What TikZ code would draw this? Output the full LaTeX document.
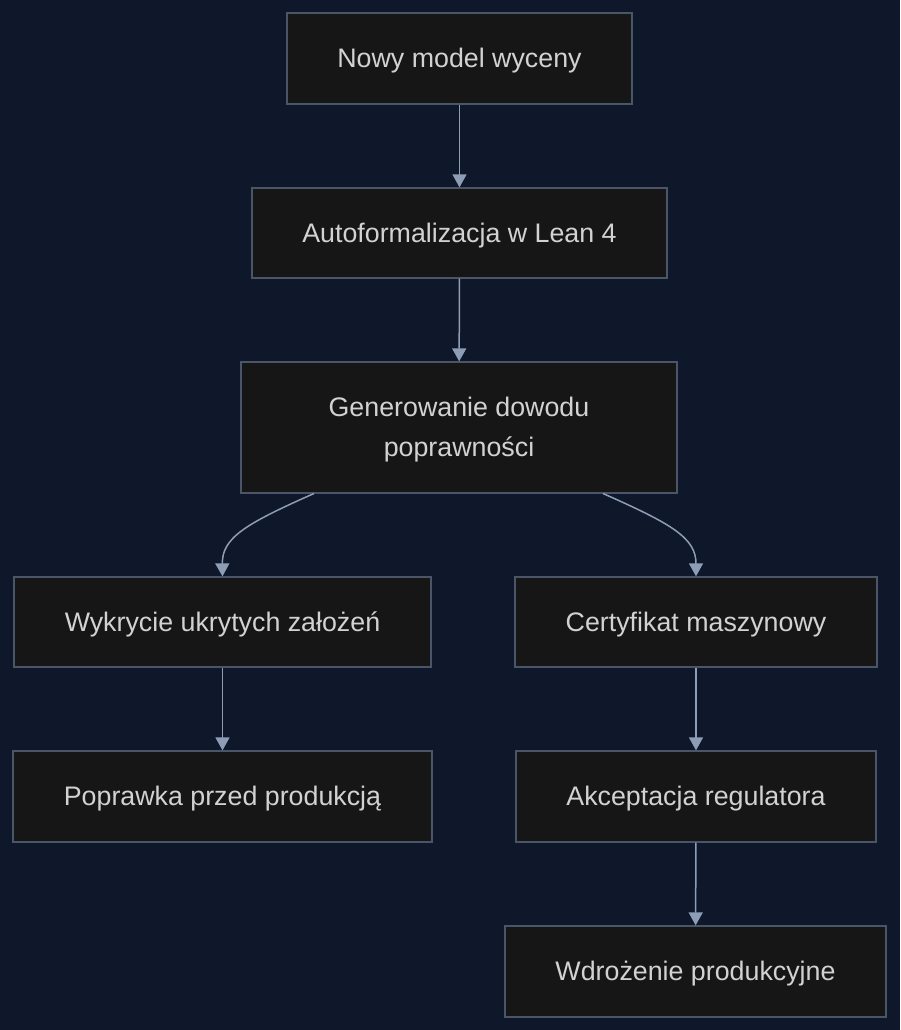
\documentclass[tikz,border=0pt]{standalone}
\usepackage{fontspec}
\setmainfont{Liberation Sans}
\usetikzlibrary{arrows.meta}
\definecolor{bgc}{HTML}{0F172A}
\definecolor{boxfill}{HTML}{161616}
\definecolor{boxline}{HTML}{4A5568}
\definecolor{edgec}{HTML}{8E9DB6}
\definecolor{txt}{HTML}{D2D2D2}
\begin{document}
\begin{tikzpicture}[x=1pt,y=-1pt,
  flowbox/.style={draw=boxline, line width=1.3pt, fill=boxfill, text=txt,
    inner sep=0pt, align=center, text height=24pt, text depth=6pt,
    font=\fontsize{26.8}{40}\selectfont},
  flowedge/.style={draw=edgec, line width=1.5pt,
    -{Triangle[width=14pt,length=13pt]}}]
\fill[bgc] (0,0) rectangle (900,1030);
\useasboundingbox (0,0) rectangle (900,1030);
\node[flowbox, minimum width=345pt, minimum height=91pt] (nowy) at (459.5,58.5) {Nowy model wyceny};
\node[flowbox, minimum width=415pt, minimum height=90pt] (auto) at (459.5,233) {Autoformalizacja w Lean 4};
\node[flowbox, minimum width=436pt, minimum height=131pt, text height=64pt] (gen) at (459,427.5) {Generowanie dowodu\\poprawności};
\node[flowbox, minimum width=417pt, minimum height=90pt] (wyk) at (222.5,622) {Wykrycie ukrytych założeń};
\node[flowbox, minimum width=362pt, minimum height=90pt] (cert) at (696,622) {Certyfikat maszynowy};
\node[flowbox, minimum width=419pt, minimum height=91pt] (popr) at (222.5,796.5) {Poprawka przed produkcją};
\node[flowbox, minimum width=360pt, minimum height=91pt] (akc) at (696,796.5) {Akceptacja regulatora};
\node[flowbox, minimum width=381pt, minimum height=91pt] (wdr) at (695.5,971.5) {Wdrożenie produkcyjne};
\coordinate (gl) at (314,493.5);
\coordinate (gr) at (603,493.5);
\draw[flowedge] (nowy) -- (auto);
\draw[flowedge] (auto) -- (gen);
\draw[flowedge] (gl) .. controls (245,524) and (222,538) .. (wyk.north);
\draw[flowedge] (gr) .. controls (672,524) and (696,538) .. (cert.north);
\draw[flowedge] (wyk) -- (popr);
\draw[flowedge] (cert) -- (akc);
\draw[flowedge] (akc) -- (wdr);
\end{tikzpicture}
\end{document}
